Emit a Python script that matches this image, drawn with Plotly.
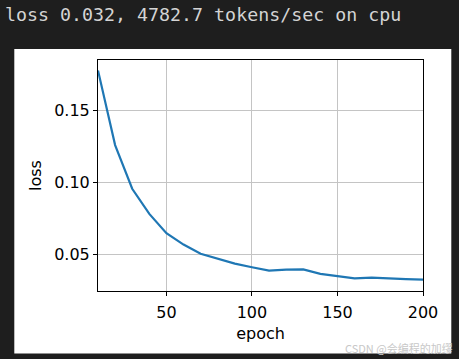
import plotly.graph_objects as go

epochs = [10, 20, 30, 40, 50, 60, 70, 80, 90, 100, 110, 120, 130, 140, 150, 160, 170, 180, 190, 200]
loss = [0.1775, 0.1257, 0.0954, 0.0780, 0.0646, 0.0567, 0.0503, 0.0468, 0.0435, 0.0410,
        0.0387, 0.0393, 0.0395, 0.0364, 0.0350, 0.0333, 0.0338, 0.0331, 0.0328, 0.0324]
x_ticks = [50, 100, 150, 200]
y_ticks = [0.05, 0.10, 0.15]
y_labels = ["0.05", "0.10", "0.15"]
header = "loss 0.032, 4782.7 tokens/sec on cpu"
watermark = "CSDN @会编程的加缪"

W, H = 459, 359
L, R, T, B = 97.7, 422.7, 60.0, 290.7
pw, ph = R - L, B - T

def px(x):
    return (x - L) / pw

def py(y):
    return (B - y) / ph

fig = go.Figure()
fig.add_trace(go.Scatter(x=epochs, y=loss, mode="lines",
                         line=dict(color="#1f77b4", width=2.2), showlegend=False))

axis_common = dict(showline=True, mirror=True, linecolor="#000000", linewidth=1,
                   ticks="outside", ticklen=4, tickwidth=1, tickcolor="#000000",
                   showgrid=True, gridcolor="#c4c4c4", gridwidth=1, zeroline=False,
                   tickfont=dict(family="DejaVu Sans", size=16, color="#000000"))

fig.update_xaxes(range=[10, 200], tickvals=x_ticks, **axis_common, ticklabelstandoff=3,
                 title=dict(text="epoch", font=dict(family="DejaVu Sans", size=16, color="#000000"), standoff=6))
fig.update_yaxes(range=[0.0245, 0.1847], tickvals=y_ticks, ticktext=y_labels, **axis_common,
                 title=dict(text="loss", font=dict(family="DejaVu Sans", size=16, color="#000000"), standoff=8))

fig.add_shape(type="rect", xref="paper", yref="paper",
              x0=px(14), x1=px(451), y0=py(353), y1=py(49),
              fillcolor="#ffffff", line=dict(width=0), layer="below")

fig.add_annotation(text=header, xref="paper", yref="paper", x=px(3), y=py(2),
                   xanchor="left", yanchor="top", showarrow=False,
                   font=dict(family="DejaVu Sans Mono", size=18.3, color="#d4d4d4"))
fig.add_annotation(text=watermark, xref="paper", yref="paper", x=px(455), y=py(348),
                   xanchor="right", yanchor="middle", showarrow=False,
                   font=dict(family="Noto Sans CJK SC", size=11, color="#c8c8c8"))

fig.update_layout(width=W, height=H, margin=dict(l=L, r=W - R, t=T, b=H - B),
                  paper_bgcolor="#1e1e1e", plot_bgcolor="#ffffff")

fig.write_html("out.html")
